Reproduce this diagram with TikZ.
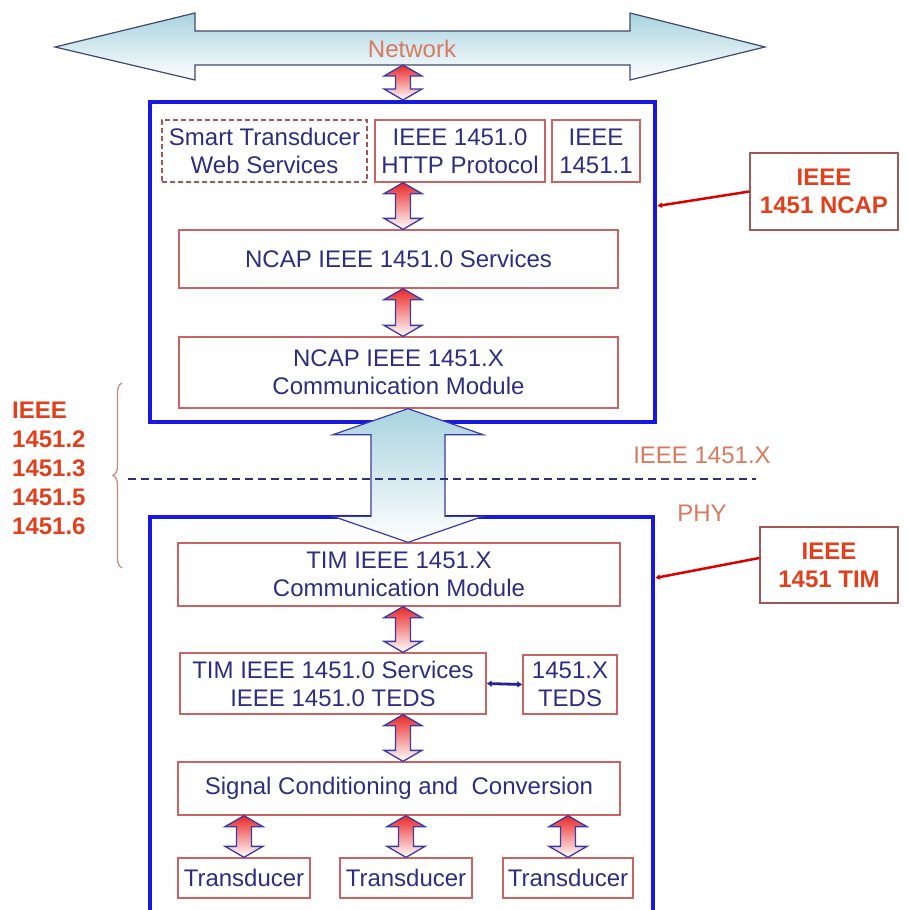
\documentclass[tikz,border=0pt]{standalone}
\usepackage{fontspec}
\setmainfont{Liberation Sans}
\usetikzlibrary{calc,arrows.meta,decorations.pathreplacing}
\definecolor{navytext}{HTML}{2E2E80}
\definecolor{boxred}{HTML}{C86464}
\definecolor{lblred}{HTML}{E0401C}
\definecolor{lblborder}{HTML}{A05858}
\definecolor{salmon}{HTML}{D77A60}
\definecolor{outerblue}{HTML}{1818E0}
\definecolor{netblue}{HTML}{A9D3DF}
\definecolor{arrline}{HTML}{3A3AA8}
\definecolor{arrred}{HTML}{EB2828}
\definecolor{slate}{HTML}{404870}
\definecolor{dashnavy}{HTML}{303070}
\definecolor{bracered}{HTML}{D08080}
\definecolor{linkblue}{HTML}{2020A0}
\tikzset{
  innerbox/.style={rectangle, draw=boxred, line width=1.3pt, text=navytext,
    font=\fontsize{24}{28}\selectfont, align=center, inner sep=0pt},
  webbox/.style={innerbox, draw=lblborder, dash pattern=on 5pt off 3pt},
  outerbox/.style={rectangle, draw=outerblue, line width=4pt, inner sep=0pt},
  lblbox/.style={rectangle, draw=lblborder, line width=1.3pt, text=lblred,
    font=\fontsize{24}{28}\selectfont\bfseries, align=center, inner sep=0pt},
  smallarr/.style={top color=arrred, bottom color=white, draw=arrline, line width=1.3pt},
  bigarr/.style={top color=netblue, bottom color=white, draw=arrline, line width=1.2pt},
  lblline/.style={draw=red!85!black, line width=2.5pt, -{Latex[length=5pt,width=6pt]}},
  plaintext/.style={text=salmon, font=\fontsize{24}{28}\selectfont, inner sep=0pt}
}
\newcommand\vdbl[2]{%
  \shadedraw[smallarr] let \p1=#1, \p2=#2 in
    (\x1,\y1) -- (\x1+19pt,\y1-11pt) -- (\x1+7.5pt,\y1-11pt) -- (\x1+7.5pt,\y2+11pt)
    -- (\x1+19pt,\y2+11pt) -- (\x1,\y2) -- (\x1-19pt,\y2+11pt) -- (\x1-7.5pt,\y2+11pt)
    -- (\x1-7.5pt,\y1-11pt) -- (\x1-19pt,\y1-11pt) -- cycle;}
\begin{document}
\begin{tikzpicture}[x=1pt,y=-1pt]
\useasboundingbox (0,0) rectangle (909,910);
% network arrow
\shadedraw[top color=netblue, bottom color=white, draw=slate, line width=1.2pt]
  (55,47) -- (195,13) -- (195,31) -- (630,31) -- (630,13) -- (765,47)
  -- (630,80) -- (630,65) -- (195,65) -- (195,80) -- cycle;
\node[plaintext] (net) at (412,49) {Network};
\coordinate (netb) at (403,65);
% outer boxes
\node[outerbox, minimum width=505pt, minimum height=320pt] (ncap) at (402.5,262) {};
\node[outerbox, minimum width=503pt, minimum height=401pt] (tim) at (401.5,717.5) {};
% NCAP contents
\node[webbox, minimum width=205pt, minimum height=62pt] (web) at (264.5,151) {Smart Transducer\\Web Services};
\node[innerbox, minimum width=170pt, minimum height=62pt] (http) at (460,151) {IEEE 1451.0\\HTTP Protocol};
\node[innerbox, minimum width=88pt, minimum height=62pt] (p11) at (596,151) {IEEE\\1451.1};
\node[innerbox, minimum width=439pt, minimum height=58pt] (nsvc) at (398.5,259) {NCAP IEEE 1451.0 Services};
\node[innerbox, minimum width=439pt, minimum height=71pt] (ncom) at (398.5,372.5) {NCAP IEEE 1451.X\\Communication Module};
% TIM contents
\node[innerbox, minimum width=442pt, minimum height=63pt] (tcom) at (399,574.5) {TIM IEEE 1451.X\\Communication Module};
\node[innerbox, minimum width=306pt, minimum height=61pt] (tsvc) at (333,683.5) {TIM IEEE 1451.0 Services\\IEEE 1451.0 TEDS};
\node[innerbox, minimum width=94pt, minimum height=59pt] (tteds) at (570,684.5) {1451.X\\TEDS};
\node[innerbox, minimum width=442pt, minimum height=53pt] (sig) at (399,788.5) {Signal Conditioning and~ Conversion};
\node[innerbox, minimum width=132pt, minimum height=40pt] (t1) at (244,878) {Transducer};
\node[innerbox, minimum width=132pt, minimum height=40pt] (t2) at (406,878) {Transducer};
\node[innerbox, minimum width=130pt, minimum height=40pt] (t3) at (568,878) {Transducer};
% label boxes
\node[lblbox, minimum width=148pt, minimum height=77pt] (ncaplbl) at (824,191.5) {IEEE\\1451 NCAP};
\node[lblbox, minimum width=138pt, minimum height=76pt] (timlbl) at (829,565) {IEEE\\1451 TIM};
\draw[lblline] (ncaplbl.west) -- ([yshift=-106pt]ncap.north east);
\draw[lblline] ([yshift=7pt]timlbl.west) -- ([yshift=-63pt]tim.north east);
% connectors
\coordinate (ax) at (403,0);
\coordinate (bx) at (408,0);
\vdbl{(netb)}{(ax |- ncap.north)}
\vdbl{(ax |- http.south)}{(ax |- nsvc.north)}
\vdbl{(ax |- nsvc.south)}{(ax |- ncom.north)}
\vdbl{(ax |- tcom.south)}{(ax |- tsvc.north)}
\vdbl{(ax |- tsvc.south)}{(ax |- sig.north)}
\vdbl{(t1 |- sig.south)}{(t1.north)}
\vdbl{(t2 |- sig.south)}{(t2.north)}
\vdbl{(t3 |- sig.south)}{(t3.north)}
\draw[draw=linkblue, line width=2.8pt, {Latex[length=5pt,width=7pt]}-{Latex[length=5pt,width=7pt]}] (tsvc.east) -- (tteds.west);
% big arrow between NCAP and TIM
\shadedraw[bigarr] let \p1=(bx |- ncom.south), \p2=(bx |- tcom.north) in
  (\x1,\y1) -- (\x1+75pt,\y1-26pt) -- (\x1+37pt,\y1-26pt) -- (\x1+37pt,\y2+26pt)
  -- (\x1+75pt,\y2+26pt) -- (\x1,\y2) -- (\x1-75pt,\y2+26pt) -- (\x1-37pt,\y2+26pt)
  -- (\x1-37pt,\y1-26pt) -- (\x1-75pt,\y1-26pt) -- cycle;
% dashed PHY line
\coordinate (dl) at (128,479);
\coordinate (dr) at (756,479);
\draw[dashnavy, line width=1.5pt, dash pattern=on 8pt off 5pt] (dl) -- (dr);
\node[plaintext] (x1451) at (702,455) {IEEE 1451.X};
\node[plaintext] (phy) at (702,513) {PHY};
% brace and left text
\coordinate (bb) at (122,568);
\coordinate (bt) at (122,383);
\draw[bracered, line width=1.2pt, decorate, decoration={brace, amplitude=9pt}] (bb) -- (bt);
\node[text=lblred, font=\fontsize{24}{29}\selectfont\bfseries, align=left, inner sep=0pt, anchor=west] (stds) at (12,468)
  {IEEE\\1451.2\\1451.3\\1451.5\\1451.6};
\end{tikzpicture}
\end{document}
